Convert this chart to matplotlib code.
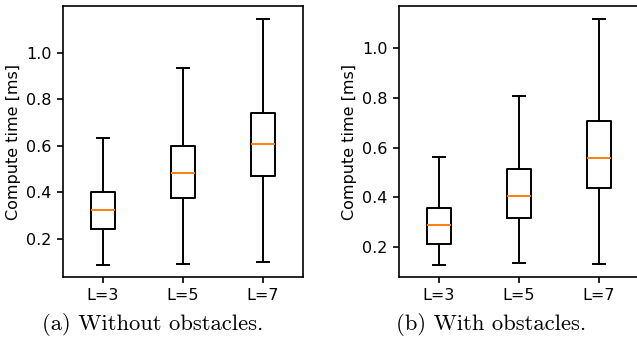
import matplotlib
matplotlib.use("Agg")
import matplotlib.pyplot as plt

# boxplot stats (compute time in ms)
labels = ["L=3", "L=5", "L=7"]

# (a) without obstacles
free_whislo = [0.086, 0.092, 0.098]
free_q1 = [0.243, 0.373, 0.471]
free_med = [0.325, 0.481, 0.608]
free_q3 = [0.401, 0.600, 0.741]
free_whishi = [0.634, 0.932, 1.145]

# (b) with obstacles
obs_whislo = [0.126, 0.134, 0.133]
obs_q1 = [0.213, 0.316, 0.438]
obs_med = [0.288, 0.403, 0.558]
obs_q3 = [0.355, 0.513, 0.708]
obs_whishi = [0.564, 0.806, 1.116]

captions = ["(a) Without obstacles.", "(b) With obstacles."]


def make_stats(lo, q1, med, q3, hi):
    return [dict(label=l, whislo=a, q1=b, med=c, q3=d, whishi=e, fliers=[])
            for l, a, b, c, d, e in zip(labels, lo, q1, med, q3, hi)]


plt.rcParams["font.size"] = 11.5
plt.rcParams["axes.linewidth"] = 1.2

W, H = 637, 338
fig = plt.figure(figsize=(W / 100, H / 100), dpi=100)

ax1 = fig.add_axes([62.7 / W, 61.3 / H, 240 / W, 270.4 / H])
ax2 = fig.add_axes([398.7 / W, 61.3 / H, 240 / W, 270.4 / H])

lw = dict(linewidth=1.4)
med = dict(linewidth=1.4, color="C1")
for ax, st in ((ax1, make_stats(free_whislo, free_q1, free_med, free_q3, free_whishi)),
               (ax2, make_stats(obs_whislo, obs_q1, obs_med, obs_q3, obs_whishi))):
    ax.bxp(st, showfliers=False, boxprops=lw, whiskerprops=lw, capprops=lw,
           medianprops=med)
    ax.set_ylabel("Compute time [ms]")
    ax.tick_params(width=1.2, length=4.5)

ax1.set_ylim(0.036, 1.199)
ax2.set_ylim(0.080, 1.169)
ax1.set_yticks([0.2, 0.4, 0.6, 0.8, 1.0])
ax2.set_yticks([0.2, 0.4, 0.6, 0.8, 1.0])

fig.text(153 / W, 1 - 324 / H, captions[0], family="cmr10", fontsize=16.3,
         ha="center", va="center")
fig.text(491 / W, 1 - 324 / H, captions[1], family="cmr10", fontsize=16.3,
         ha="center", va="center")

fig.savefig("out.png", dpi=100)
